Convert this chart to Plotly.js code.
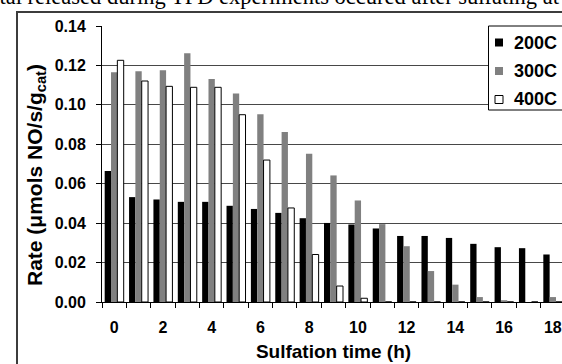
<!DOCTYPE html>
<html>
<head>
<meta charset="utf-8">
<script src="https://cdn.plot.ly/plotly-3.0.1.min.js"></script>
<style>
  html, body { margin:0; padding:0; overflow:hidden; background:#fff; width:562px; height:364px; }
  #frame { position:absolute; left:16px; top:11px; width:700px; height:500px; border:2px solid #3c3c3c; box-sizing:border-box; }
  #caption { position:absolute; left:-18px; top:-14px; font-family:'Liberation Serif','Times New Roman',serif; font-size:22.5px; line-height:22.5px; white-space:nowrap; color:#000; }
  #chart { position:absolute; left:0; top:0; }
</style>
</head>
<body>
<div id="frame"></div>
<div id="chart"></div>
<div id="caption">total released during TPD experiments occured after sulfating at a</div>
<script>
// ---- data ----
const sulfationTime = [0,1,2,3,4,5,6,7,8,9,10,11,12,13,14,15,16,17,18];
const rate200C = [0.0664,0.0532,0.0520,0.0508,0.0508,0.0488,0.0472,0.0452,0.0425,0.0401,0.0393,0.0373,0.0335,0.0335,0.0325,0.0295,0.0278,0.0273,0.0241];
const rate300C = [0.1165,0.1170,0.1175,0.1262,0.1131,0.1058,0.0952,0.0862,0.0752,0.0642,0.0515,0.0395,0.0283,0.0157,0.0088,0.0025,0.0009,0.0000,0.0025];
const rate400C = [0.1226,0.1121,0.1094,0.1089,0.1089,0.0950,0.0720,0.0477,0.0241,0.0081,0.0019,0,0,0,0,0,0,0,0];
const seriesNames = ['200C','300C','400C'];
const xTickVals = [0,2,4,6,8,10,12,14,16,18];
const xTickText = ['0','2','4','6','8','10','12','14','16','18'];
const yTickVals = [0,0.02,0.04,0.06,0.08,0.10,0.12,0.14];
const yTickText = ['0.00','0.02','0.04','0.06','0.08','0.10','0.12','0.14'];

// ---- layout geometry (pixels) ----
const FIG_W = 600, FIG_H = 380;
const L = 102, T = 26, R = 565, B = 302;
const PW = R - L, PH = B - T;
const px = x => (x - L) / PW;
const py = y => (B - y) / PH;

const fills = ['#000000', '#808080', '#ffffff'];
const lines = ['#000000', '#808080', '#000000'];
const values = [rate200C, rate300C, rate400C];

const traces = values.map((v, i) => ({
  type: 'bar',
  name: seriesNames[i],
  x: sulfationTime,
  y: v,
  marker: { color: fills[i], line: { color: lines[i], width: i === 2 ? 1 : 0 } },
  showlegend: false,
  hoverinfo: 'x+y'
}));

const font = 'Arial, "Liberation Sans", sans-serif';

// manual legend
const shapes = [{
  type: 'rect', xref: 'paper', yref: 'paper',
  x0: px(488.5), x1: px(640), y0: py(110), y1: py(26),
  line: { color: '#000', width: 1 }, fillcolor: '#fff', layer: 'above'
}];
const annotations = [];
const legY = [42.5, 71, 99.5];
seriesNames.forEach((n, i) => {
  shapes.push({
    type: 'rect', xref: 'paper', yref: 'paper',
    x0: px(495), x1: px(503), y0: py(legY[i] + 4), y1: py(legY[i] - 4),
    line: { color: i === 1 ? '#808080' : '#000', width: i === 2 ? 1 : 0 },
    fillcolor: fills[i], layer: 'above'
  });
  annotations.push({
    xref: 'paper', yref: 'paper', x: px(512), y: py(legY[i]),
    xanchor: 'left', yanchor: 'middle', showarrow: false,
    text: '<b>' + n + '</b>', font: { family: font, size: 18, color: '#000' }
  });
});
// y-axis title
annotations.push({
  xref: 'paper', yref: 'paper', x: px(36), y: py(175),
  xanchor: 'center', yanchor: 'middle', showarrow: false, textangle: -90,
  text: '<b>Rate (μmols NO/s/g<sub>cat</sub>)</b>',
  font: { family: font, size: 21, color: '#000' }
});

const layout = {
  width: FIG_W, height: FIG_H, autosize: false,
  margin: { l: L, r: FIG_W - R, t: T, b: FIG_H - B, pad: 0 },
  paper_bgcolor: 'rgba(0,0,0,0)', plot_bgcolor: 'rgba(0,0,0,0)',
  barmode: 'group', bargap: 0.22, bargroupgap: 0,
  font: { family: font, color: '#000' },
  xaxis: {
    range: [-0.5, 18.5], tickmode: 'array', tickvals: xTickVals, ticktext: xTickText,
    ticks: '', ticklabelstandoff: 11,
    tickfont: { family: font, size: 16, color: '#000', weight: 'bold' },
    showline: true, linecolor: '#000', linewidth: 1, showgrid: false, zeroline: false,
    minor: { tickmode: 'linear', tick0: -0.5, dtick: 1, ticks: 'outside', ticklen: 5, tickwidth: 1, tickcolor: '#000', showgrid: false },
    title: { text: '<b>Sulfation time (h)</b>', font: { family: font, size: 19, color: '#000' }, standoff: 9 },
    fixedrange: true
  },
  yaxis: {
    range: [0, 0.14], tickmode: 'array', tickvals: yTickVals, ticktext: yTickText,
    ticks: 'outside', ticklen: 5, tickwidth: 1, tickcolor: '#000', ticklabelstandoff: 7,
    tickfont: { family: font, size: 16, color: '#000', weight: 'bold' },
    showline: true, linecolor: '#000', linewidth: 1,
    showgrid: true, gridcolor: '#484848', gridwidth: 1, zeroline: false,
    fixedrange: true
  },
  shapes: shapes,
  annotations: annotations
};

Plotly.newPlot('chart', traces, layout, { displayModeBar: false, staticPlot: true });
</script>
</body>
</html>
